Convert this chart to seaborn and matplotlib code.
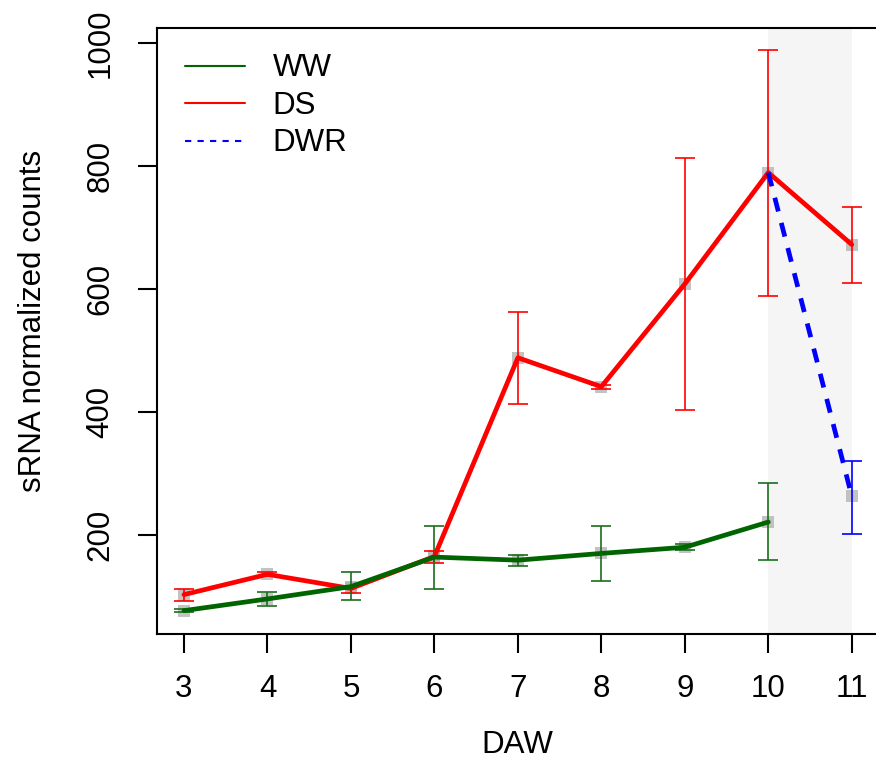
import numpy as np
import pandas as pd
import matplotlib
matplotlib.use('Agg')
import matplotlib.pyplot as plt
import seaborn as sns
from matplotlib.lines import Line2D

# values
ww_days = [3, 4, 5, 6, 7, 8, 9, 10]
ww_mean = [77, 96, 116, 164, 159, 170, 180, 221]
ww_lo = [75, 84, 95, 112, 150, 125, 176, 159]
ww_hi = [79, 107, 139, 215, 168, 215, 185, 285]

ds_days = [3, 4, 5, 6, 7, 8, 9, 10, 11]
ds_mean = [103, 136, 113, 165, 488, 441, 608, 789, 672]
ds_lo = [93, 133, 106, 154, 413, 437, 403, 589, 610]
ds_hi = [112, 139, 117, 174, 562, 444, 813, 989, 733]

dwr_days = [10, 11]
dwr_mean = [789, 263]
dwr_err_day = [11]
dwr_err_mean = [263]
dwr_lo = [202]
dwr_hi = [320]

x_ticks = [3, 4, 5, 6, 7, 8, 9, 10, 11]
y_ticks = [200, 400, 600, 800, 1000]

sns.set_style('ticks')
plt.rcParams['font.family'] = ['Liberation Sans', 'DejaVu Sans']
plt.rcParams['text.color'] = 'black'
plt.rcParams['axes.labelcolor'] = 'black'

fig = plt.figure(figsize=(8.76, 7.61), dpi=100)
ax = fig.add_axes([157 / 876, 127 / 761, 724 / 876, 606 / 761])

ax.axvspan(10, 11, color='#f5f5f5', lw=0, zorder=0)

pts = pd.DataFrame({
    'day': ww_days + ds_days + dwr_err_day,
    'val': ww_mean + ds_mean + dwr_err_mean,
})
sns.scatterplot(data=pts, x='day', y='val', marker='s', color='#b5b5b5',
                alpha=0.8, s=85, linewidth=0, ax=ax, zorder=1)

def err(days, mean, lo, hi, col):
    m = np.array(mean)
    ax.errorbar(days, m, yerr=[m - np.array(lo), np.array(hi) - m], fmt='none',
                ecolor=col, elinewidth=1.2, capsize=7.5, capthick=1.2, zorder=2)

err(ds_days, ds_mean, ds_lo, ds_hi, '#ff0000')
err(ww_days, ww_mean, ww_lo, ww_hi, '#1a6e1a')
err(dwr_err_day, dwr_err_mean, dwr_lo, dwr_hi, '#0000ff')

sns.lineplot(x=ds_days, y=ds_mean, color='#ff0000', lw=3.4, ax=ax, zorder=3)
sns.lineplot(x=ww_days, y=ww_mean, color='#006400', lw=3.4, ax=ax, zorder=3)
sns.lineplot(x=dwr_days, y=dwr_mean, color='#0000ff', lw=3.4,
             linestyle=(0, (3, 2.5)), ax=ax, zorder=4)

ax.set_xlim(2.677, 11.35)
ax.set_ylim(39, 1024)
ax.set_xticks(x_ticks)
ax.set_yticks(y_ticks)
ax.set_yticklabels([str(v) for v in y_ticks], rotation=90, va='center')

for s in ['left', 'bottom', 'top']:
    ax.spines[s].set_linewidth(1.5)
    ax.spines[s].set_color('black')
ax.spines['right'].set_visible(False)
ax.tick_params(length=14, width=1.5, direction='out', labelsize=22.5, colors='black')
ax.tick_params(axis='x', pad=15)
ax.tick_params(axis='y', pad=16)

ax.set_xlabel('DAW', fontsize=22.5, va='center', color='black')
ax.set_ylabel('sRNA normalized counts', fontsize=22.5, va='center', color='black')
ax.xaxis.set_label_coords((517 - 157) / 724, -0.183)
ax.yaxis.set_label_coords((33 - 157) / 724, 0.516)

handles = [Line2D([], [], color='#006400', lw=1.5),
           Line2D([], [], color='#ff0000', lw=1.5),
           Line2D([], [], color='#0000ff', lw=1.5, linestyle=(0, (3, 3)))]
leg = ax.legend(handles, ['WW', 'DS', 'DWR'], loc='upper left',
                bbox_to_anchor=(0.0387, 0.958), frameon=False, fontsize=22.5,
                handlelength=1.92, handletextpad=0.88, labelspacing=0.24,
                borderpad=0, borderaxespad=0)
for t in leg.get_texts():
    t.set_color('black')

fig.savefig('out.png', dpi=100)
